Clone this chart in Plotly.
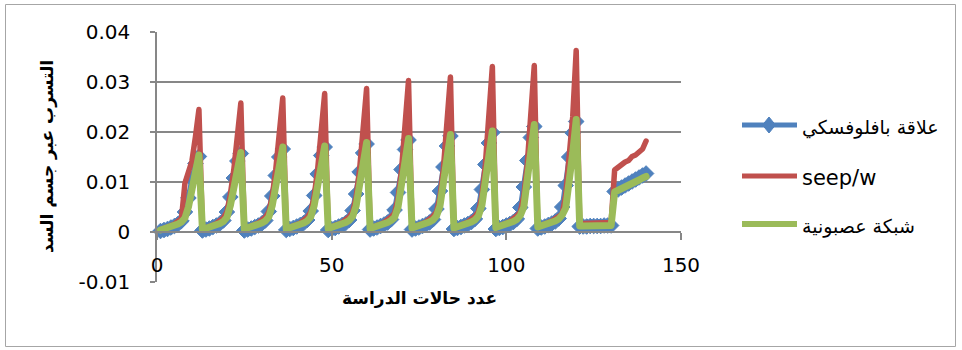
import plotly.graph_objects as go

# Study case numbers
cases = list(range(1, 141))

# Seepage through the dam body: Pavlovsky relation
pavlovsky = [
    0.0002, 0.0004, 0.0006, 0.0009, 0.0012, 0.0016, 0.0022, 0.0040, 0.0068, 0.0105, 0.0137, 0.0151,
    0.0003, 0.0005, 0.0007, 0.0010, 0.0013, 0.0017, 0.0023, 0.0040, 0.0070, 0.0108, 0.0142, 0.0157,
    0.0003, 0.0005, 0.0007, 0.0010, 0.0013, 0.0017, 0.0023, 0.0041, 0.0072, 0.0113, 0.0150, 0.0166,
    0.0004, 0.0006, 0.0008, 0.0011, 0.0014, 0.0018, 0.0024, 0.0042, 0.0073, 0.0116, 0.0153, 0.0170,
    0.0004, 0.0006, 0.0008, 0.0011, 0.0014, 0.0018, 0.0024, 0.0043, 0.0076, 0.0120, 0.0158, 0.0176,
    0.0005, 0.0007, 0.0009, 0.0012, 0.0015, 0.0019, 0.0025, 0.0044, 0.0079, 0.0125, 0.0165, 0.0184,
    0.0005, 0.0007, 0.0009, 0.0012, 0.0015, 0.0019, 0.0025, 0.0046, 0.0082, 0.0130, 0.0172, 0.0192,
    0.0006, 0.0008, 0.0010, 0.0013, 0.0016, 0.0020, 0.0026, 0.0047, 0.0085, 0.0135, 0.0178, 0.0199,
    0.0006, 0.0008, 0.0010, 0.0013, 0.0016, 0.0020, 0.0026, 0.0049, 0.0090, 0.0143, 0.0189, 0.0211,
    0.0007, 0.0009, 0.0011, 0.0014, 0.0017, 0.0021, 0.0027, 0.0050, 0.0093, 0.0150, 0.0198, 0.0221,
    0.0011, 0.0011, 0.0011, 0.0012, 0.0012, 0.0012, 0.0012, 0.0013, 0.0013, 0.0013,
    0.0081, 0.0085, 0.0089, 0.0093, 0.0097, 0.0101, 0.0105, 0.0109, 0.0113, 0.0117,
]

# Seepage computed with SEEP/W
seepw = [
    0.0005, 0.0007, 0.0010, 0.0013, 0.0016, 0.0020, 0.0027, 0.0098, 0.0117, 0.0142, 0.0190, 0.0245,
    0.0006, 0.0008, 0.0011, 0.0014, 0.0017, 0.0021, 0.0028, 0.0040, 0.0075, 0.0125, 0.0190, 0.0258,
    0.0007, 0.0009, 0.0012, 0.0015, 0.0018, 0.0022, 0.0029, 0.0040, 0.0072, 0.0125, 0.0195, 0.0268,
    0.0007, 0.0009, 0.0012, 0.0015, 0.0018, 0.0022, 0.0029, 0.0040, 0.0072, 0.0126, 0.0200, 0.0277,
    0.0008, 0.0010, 0.0013, 0.0016, 0.0019, 0.0023, 0.0030, 0.0040, 0.0070, 0.0125, 0.0210, 0.0287,
    0.0008, 0.0010, 0.0013, 0.0016, 0.0019, 0.0023, 0.0030, 0.0038, 0.0068, 0.0124, 0.0222, 0.0303,
    0.0009, 0.0011, 0.0014, 0.0017, 0.0020, 0.0024, 0.0031, 0.0040, 0.0070, 0.0128, 0.0225, 0.0310,
    0.0009, 0.0011, 0.0014, 0.0017, 0.0020, 0.0024, 0.0031, 0.0040, 0.0072, 0.0135, 0.0235, 0.0331,
    0.0010, 0.0012, 0.0015, 0.0018, 0.0021, 0.0025, 0.0032, 0.0040, 0.0073, 0.0136, 0.0230, 0.0333,
    0.0011, 0.0013, 0.0016, 0.0019, 0.0022, 0.0026, 0.0030, 0.0036, 0.0075, 0.0140, 0.0230, 0.0363,
    0.0017, 0.0017, 0.0017, 0.0018, 0.0018, 0.0018, 0.0018, 0.0019, 0.0019, 0.0019,
    0.0124, 0.0130, 0.0133, 0.0140, 0.0143, 0.0151, 0.0154, 0.0162, 0.0166, 0.0182,
]

# Seepage predicted by the neural network
neural = [
    0.0004, 0.0006, 0.0008, 0.0010, 0.0013, 0.0016, 0.0020, 0.0028, 0.0050, 0.0088, 0.0121, 0.0154,
    0.0005, 0.0007, 0.0009, 0.0011, 0.0014, 0.0017, 0.0021, 0.0029, 0.0053, 0.0090, 0.0124, 0.0159,
    0.0006, 0.0008, 0.0010, 0.0012, 0.0015, 0.0018, 0.0022, 0.0030, 0.0053, 0.0093, 0.0131, 0.0170,
    0.0006, 0.0008, 0.0010, 0.0012, 0.0015, 0.0018, 0.0022, 0.0030, 0.0053, 0.0093, 0.0133, 0.0172,
    0.0007, 0.0009, 0.0011, 0.0013, 0.0016, 0.0019, 0.0023, 0.0031, 0.0052, 0.0093, 0.0138, 0.0179,
    0.0007, 0.0009, 0.0011, 0.0013, 0.0016, 0.0019, 0.0023, 0.0029, 0.0050, 0.0092, 0.0145, 0.0187,
    0.0008, 0.0010, 0.0012, 0.0014, 0.0017, 0.0020, 0.0024, 0.0032, 0.0052, 0.0096, 0.0148, 0.0195,
    0.0008, 0.0010, 0.0012, 0.0014, 0.0017, 0.0020, 0.0024, 0.0032, 0.0053, 0.0099, 0.0153, 0.0202,
    0.0009, 0.0011, 0.0013, 0.0015, 0.0018, 0.0021, 0.0025, 0.0033, 0.0050, 0.0100, 0.0160, 0.0215,
    0.0010, 0.0012, 0.0014, 0.0016, 0.0019, 0.0022, 0.0026, 0.0034, 0.0048, 0.0098, 0.0158, 0.0225,
    0.0012, 0.0012, 0.0012, 0.0012, 0.0012, 0.0012, 0.0012, 0.0012, 0.0013, 0.0013,
    0.0080, 0.0083, 0.0087, 0.0090, 0.0094, 0.0097, 0.0101, 0.0104, 0.0108, 0.0111,
]

series_names = ["علاقة بافلوفسكي", "seep/w", "شبكة عصبونية"]
series_colors = ["#4F81BD", "#C0504D", "#9BBB59"]

x_tick_vals = [0, 50, 100, 150]
x_tick_text = ["0", "50", "100", "150"]
y_tick_vals = [-0.01, 0, 0.01, 0.02, 0.03, 0.04]
y_tick_text = ["-0.01", "0", "0.01", "0.02", "0.03", "0.04"]

x_title = "عدد حالات الدراسة"
y_title = "التسرب عبر جسم السد"

W, H = 962, 350
ML, MR, MT, MB = 157, 281, 32, 68
PW, PH = W - ML - MR, H - MT - MB


def px_x(p):
    return (p - ML) / PW


def px_y(p):
    return (H - MB - p) / PH


AXIS_GRAY = "#878787"
TICK_FONT = dict(family="DejaVu Sans", size=20, color="#000000")

fig = go.Figure()

fig.add_trace(go.Scatter(
    x=cases, y=pavlovsky, name=series_names[0], mode="lines+markers",
    line=dict(color=series_colors[0], width=5),
    marker=dict(symbol="diamond", size=12, color=series_colors[0],
                line=dict(color=series_colors[0], width=1)),
    cliponaxis=False, showlegend=False,
))
fig.add_trace(go.Scatter(
    x=cases, y=seepw, name=series_names[1], mode="lines",
    line=dict(color=series_colors[1], width=5.5),
    cliponaxis=False, showlegend=False,
))
fig.add_trace(go.Scatter(
    x=cases, y=neural, name=series_names[2], mode="lines",
    line=dict(color=series_colors[2], width=7),
    cliponaxis=False, showlegend=False,
))

# Legend drawn beside the plot: line samples, the diamond marker and labels
legend_rows = [125, 176, 224]
shapes = []
annotations = []
for i, row in enumerate(legend_rows):
    yy = px_y(row)
    shapes.append(dict(
        type="line", xref="paper", yref="paper",
        x0=px_x(742), x1=px_x(797), y0=yy, y1=yy,
        line=dict(color=series_colors[i], width=5 if i != 2 else 6),
    ))
    annotations.append(dict(
        xref="paper", yref="paper", x=px_x(800), y=px_y(row + 2),
        xanchor="left", yanchor="middle", showarrow=False,
        text=series_names[i],
        font=dict(family="DejaVu Sans", size=21 if i == 1 else 19, color="#000000"),
    ))

# diamond on the first legend row
cx, cy = 769, legend_rows[0]
hw, hh = 6.5, 8
shapes.append(dict(
    type="path", xref="paper", yref="paper",
    path=(f"M {px_x(cx)} {px_y(cy - hh)} L {px_x(cx + hw)} {px_y(cy)} "
          f"L {px_x(cx)} {px_y(cy + hh)} L {px_x(cx - hw)} {px_y(cy)} Z"),
    fillcolor=series_colors[0], line=dict(color=series_colors[0], width=1),
))

# outer chart border
shapes.append(dict(
    type="rect", xref="paper", yref="paper",
    x0=px_x(5.5), x1=px_x(955.5), y0=px_y(346.5), y1=px_y(4.5),
    line=dict(color="#a6a6a6", width=1), fillcolor="rgba(0,0,0,0)", layer="below",
))

annotations.append(dict(
    xref="paper", yref="paper", x=0.5, y=px_y(298),
    xanchor="center", yanchor="middle", showarrow=False, text=f"<b>{x_title}</b>",
    font=dict(family="DejaVu Sans", size=17, color="#000000"),
))
annotations.append(dict(
    xref="paper", yref="paper", x=px_x(47), y=0.5, textangle=-90,
    xanchor="center", yanchor="middle", showarrow=False, text=f"<b>{y_title}</b>",
    font=dict(family="DejaVu Sans", size=17, color="#000000"),
))

fig.update_layout(
    width=W, height=H,
    margin=dict(l=ML, r=MR, t=MT, b=MB, pad=0),
    paper_bgcolor="#ffffff", plot_bgcolor="#ffffff",
    showlegend=False,
    shapes=shapes, annotations=annotations,
    xaxis=dict(
        range=[0, 150], tickvals=x_tick_vals, ticktext=x_tick_text,
        showgrid=False, zeroline=False,
        showline=True, linecolor=AXIS_GRAY, linewidth=1.5,
        ticks="outside", ticklen=7, tickwidth=1.5, tickcolor=AXIS_GRAY,
        anchor="free", position=px_y(232),
        tickfont=TICK_FONT, ticklabelstandoff=8,
    ),
    yaxis=dict(
        range=[-0.01, 0.04], tickvals=y_tick_vals, ticktext=y_tick_text,
        showgrid=True, gridcolor=AXIS_GRAY, gridwidth=1.5, zeroline=False,
        showline=True, linecolor=AXIS_GRAY, linewidth=1.5,
        ticks="outside", ticklen=5, tickwidth=1.5, tickcolor=AXIS_GRAY,
        tickfont=TICK_FONT, ticklabelstandoff=16,
    ),
)

# Rounded joins and caps on the series lines, as in office-style charts
round_joins = """
var st = document.createElement('style');
st.textContent = '.scatterlayer path.js-line { stroke-linejoin: round !important; stroke-linecap: round !important; }';
document.head.appendChild(st);
"""

fig.write_html("out.html", post_script=round_joins)
